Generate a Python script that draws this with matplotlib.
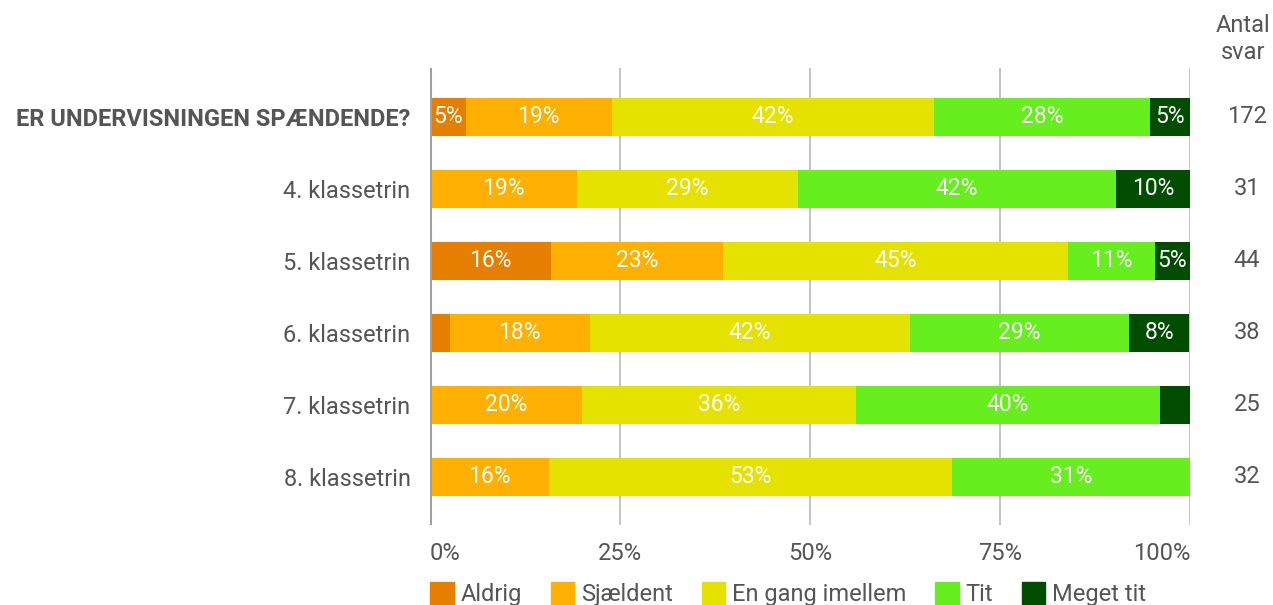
import matplotlib.pyplot as plt
from matplotlib.patches import Patch

plt.rcParams['font.family'] = ['Roboto', 'DejaVu Sans']

# Rows (top to bottom)
rows = ['ER UNDERVISNINGEN SPÆNDENDE?', '4. klassetrin', '5. klassetrin',
        '6. klassetrin', '7. klassetrin', '8. klassetrin']
answers = [172, 31, 44, 38, 25, 32]

# Answer categories
categories = ['Aldrig', 'Sjældent', 'En gang imellem', 'Tit', 'Meget tit']
colors = ['#e67e00', '#ffb000', '#e6e200', '#66ee1e', '#004d00']

# Percent per category, one value per row
aldrig = [4.7, 0.0, 15.9, 2.6, 0.0, 0.0]
sjaeldent = [19.2, 19.4, 22.7, 18.4, 20.0, 15.6]
en_gang = [42.4, 29.0, 45.4, 42.1, 36.0, 53.1]
tit = [28.5, 41.9, 11.4, 28.9, 40.0, 31.3]
meget_tit = [5.2, 9.7, 4.6, 7.9, 4.0, 0.0]
series = [aldrig, sjaeldent, en_gang, tit, meget_tit]

text_color = '#555555'
fs = 17

fig = plt.figure(figsize=(12.73, 6.05), dpi=100)
ax = fig.add_axes([430 / 1273, 1 - 525 / 605, 760 / 1273, 457 / 605])

ypos = list(range(len(rows)))
left = [0.0] * len(rows)
for values, color in zip(series, colors):
    ax.barh(ypos, values, left=left, height=0.53, color=color, zorder=3)
    for y, (l, v) in enumerate(zip(left, values)):
        if round(v) >= 5:
            ax.text(l + v / 2, y, '%d%%' % round(v), ha='center', va='center',
                    color='white', fontsize=16.5, zorder=4)
    left = [l + v for l, v in zip(left, values)]

ax.set_xlim(0, 100)
ax.set_ylim(len(rows) - 1 + 0.67, -0.68)

# Grid lines
for x in [25, 50, 75, 100]:
    ax.axvline(x, color='#b4b4b4', lw=1.1, zorder=1)
ax.axvline(0, color='#a0a0a0', lw=2.2, zorder=5)

for s in ax.spines.values():
    s.set_visible(False)

ax.set_xticks([0, 25, 50, 75, 100])
ax.set_xticklabels(['0%', '25%', '50%', '75%', '100%'])
ax.tick_params(axis='x', length=0, pad=12, labelsize=fs, labelcolor=text_color)
xlabels = ax.get_xticklabels()
xlabels[0].set_horizontalalignment('left')
xlabels[-1].set_horizontalalignment('right')

ax.set_yticks(ypos)
ax.set_yticklabels(rows)
ax.tick_params(axis='y', length=0, pad=14, labelsize=fs, labelcolor=text_color)
ax.get_yticklabels()[0].set_fontweight('bold')

# Number of answers column
for y, n in enumerate(answers):
    ax.text(1.075, y, str(n), transform=ax.get_yaxis_transform(),
            ha='center', va='center', fontsize=fs, color=text_color)
fig.text(1243 / 1273, 1 - 39 / 605, 'Antal\nsvar', ha='center', va='center',
         fontsize=fs, color=text_color, linespacing=1.2)

handles = [Patch(facecolor=c, edgecolor=c) for c in colors]
fig.legend(handles, categories, loc='lower left',
           bbox_to_anchor=(409 / 1273, -0.037), ncol=5, frameon=False,
           fontsize=fs, labelcolor=text_color, handlelength=1.0,
           handleheight=1.0, handletextpad=0.3, columnspacing=1.2)

fig.savefig('out.png', dpi=100)
